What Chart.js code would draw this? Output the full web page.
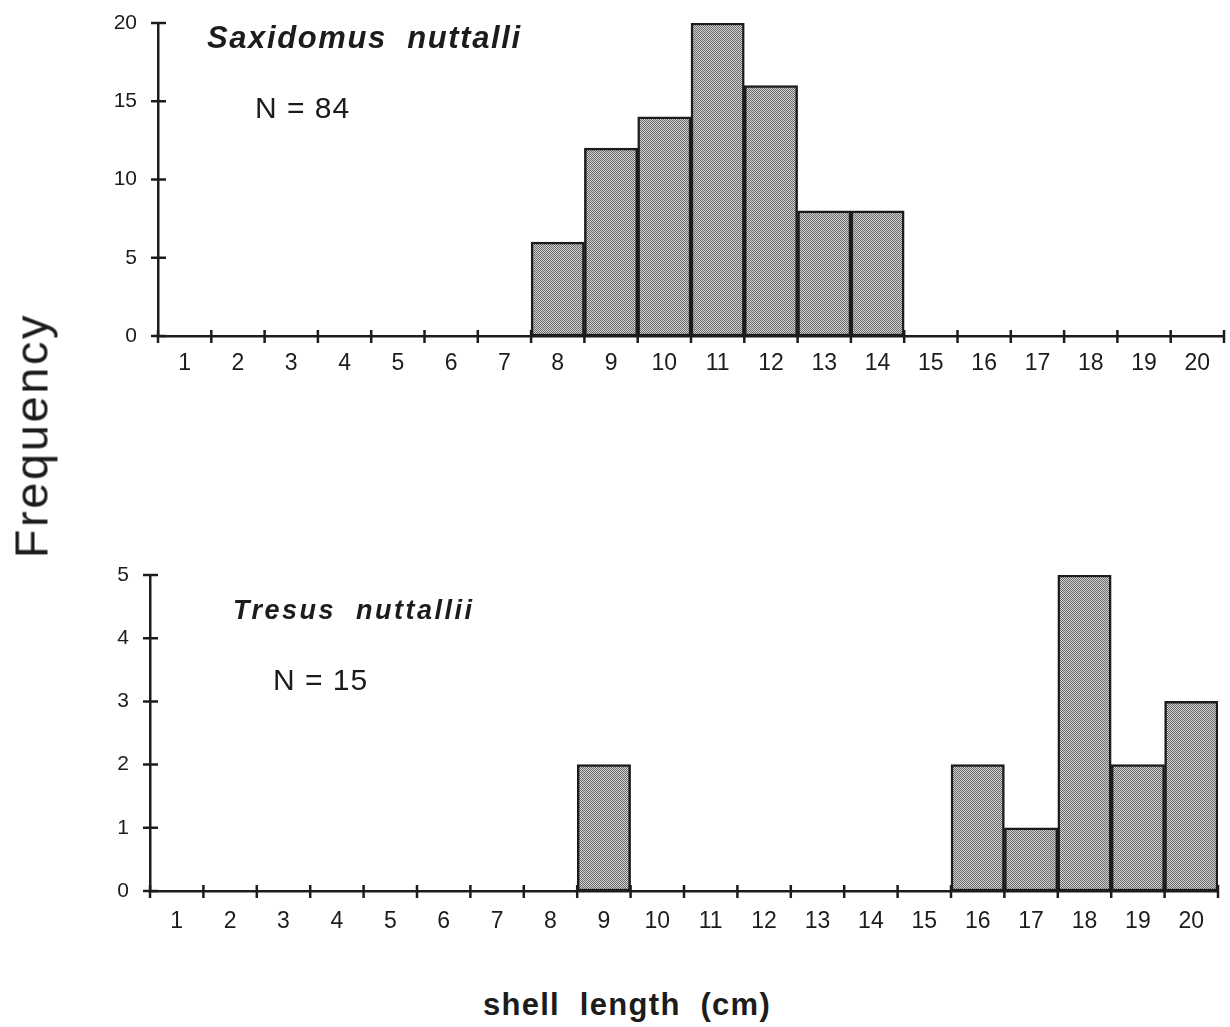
<!DOCTYPE html>
<html>
<head>
<meta charset="utf-8">
<script src="https://cdn.jsdelivr.net/npm/chart.js@4.4.1/dist/chart.umd.min.js"></script>
<style>
  body { margin: 0; background: #fff; font-family: "Liberation Sans", Arial, sans-serif; color: #1c1c1c; }
  #page { position: relative; width: 1230px; height: 1027px; overflow: hidden; }
  .box { position: absolute; left: 0; width: 1230px; }
  .txt { position: absolute; white-space: nowrap; line-height: 1; }
</style>
</head>
<body>
<div id="page">
  <div class="box" style="top:0px;height:400px"><canvas id="top" width="1230" height="400"></canvas></div>
  <div class="box" style="top:540px;height:415px"><canvas id="bottom" width="1230" height="415"></canvas></div>

  <div class="txt" style="left:207px;top:22px;font-size:31px;font-weight:bold;font-style:italic;letter-spacing:1.6px">Saxidomus&nbsp; nuttalli</div>
  <div class="txt" style="left:255px;top:93px;font-size:30px;letter-spacing:1px">N = 84</div>
  <div class="txt" style="left:233px;top:597px;font-size:27px;font-weight:bold;font-style:italic;letter-spacing:2.5px">Tresus&nbsp; nuttallii</div>
  <div class="txt" style="left:273px;top:665px;font-size:30px;letter-spacing:1px">N = 15</div>
  <div class="txt" style="left:477px;top:989px;width:300px;text-align:center;font-size:31px;font-weight:bold;letter-spacing:1.3px">shell&nbsp; length&nbsp; (cm)</div>
  <div class="txt" style="left:-119px;top:412px;width:300px;text-align:center;font-size:47px;letter-spacing:2.6px;transform:rotate(-90deg)">Frequency</div>
</div>
<script>
// shell length classes (cm)
var categories = ['1','2','3','4','5','6','7','8','9','10','11','12','13','14','15','16','17','18','19','20'];
// frequencies
var saxidomusCounts = [0,0,0,0,0,0,0,6,12,14,20,16,8,8,0,0,0,0,0,0];
var tresusCounts    = [0,0,0,0,0,0,0,0,2,0,0,0,0,0,0,2,1,5,2,3];
var saxidomusTicks = [0,5,10,15,20];
var tresusTicks    = [0,1,2,3,4,5];

var ink = '#1c1c1c';

// stippled grey like the old laser print
function stipple() {
  var c = document.createElement('canvas');
  c.width = 2; c.height = 2;
  var g = c.getContext('2d');
  g.fillStyle = '#d2d2d2'; g.fillRect(0, 0, 2, 2);
  g.fillStyle = '#6a6a6a'; g.fillRect(0, 0, 1, 1); g.fillRect(1, 1, 1, 1);
  return g.createPattern(c, 'repeat');
}

// tick marks that cross the axis lines
var crossTicks = {
  id: 'crossTicks',
  afterDraw: function(chart) {
    var ctx = chart.ctx, x = chart.scales.x, y = chart.scales.y;
    var area = chart.chartArea;
    ctx.save();
    ctx.strokeStyle = ink;
    ctx.lineWidth = 2.5;
    ctx.beginPath();
    ctx.moveTo(area.left - 4, area.bottom);
    ctx.lineTo(area.left, area.bottom);
    for (var i = 0; i <= categories.length; i++) {
      var px = x.getPixelForValue(i - 0.5);
      ctx.moveTo(px, area.bottom - 6);
      ctx.lineTo(px, area.bottom + 7);
    }
    y.ticks.forEach(function(t) {
      var py = y.getPixelForValue(t.value);
      ctx.moveTo(area.left - 7, py);
      ctx.lineTo(area.left + 8, py);
    });
    ctx.stroke();
    ctx.restore();
  }
};

function makeChart(id, counts, ticks, axisWidth, padTop, padRight, labelPad) {
  var yMax = ticks[ticks.length - 1];
  return new Chart(document.getElementById(id).getContext('2d'), {
    type: 'bar',
    data: {
      labels: categories,
      datasets: [{
        data: counts,
        backgroundColor: stipple(),
        borderColor: ink,
        borderWidth: 2.5,
        borderSkipped: false,
        barPercentage: 1,
        categoryPercentage: 1
      }]
    },
    options: {
      responsive: false,
      animation: false,
      layout: { padding: { top: padTop, right: padRight, left: 0, bottom: 0 } },
      plugins: { legend: { display: false }, tooltip: { enabled: false } },
      scales: {
        x: {
          offset: true,
          grid: { display: false, drawTicks: false, offset: true },
          border: { display: true, color: ink, width: 2.5 },
          ticks: { color: ink, padding: labelPad, maxRotation: 0, autoSkip: false,
                   font: { family: 'Liberation Sans', size: 23 } },
          afterFit: function(s) { s.height = 64; s.paddingLeft = 0; s.paddingRight = 0; }
        },
        y: {
          min: 0,
          max: yMax,
          afterBuildTicks: function(s) { s.ticks = ticks.map(function(v) { return { value: v }; }); },
          grid: { display: false, drawTicks: false },
          border: { display: true, color: ink, width: 2.5 },
          ticks: { color: ink, padding: 21, font: { family: 'Liberation Sans', size: 21 } },
          afterFit: function(s) { s.width = axisWidth; s.paddingTop = 0; s.paddingBottom = 0; }
        }
      }
    },
    plugins: [crossTicks]
  });
}

makeChart('top', saxidomusCounts, saxidomusTicks, 158, 23, 6, 14);
makeChart('bottom', tresusCounts, tresusTicks, 150, 35, 12, 17);
</script>
</body>
</html>
